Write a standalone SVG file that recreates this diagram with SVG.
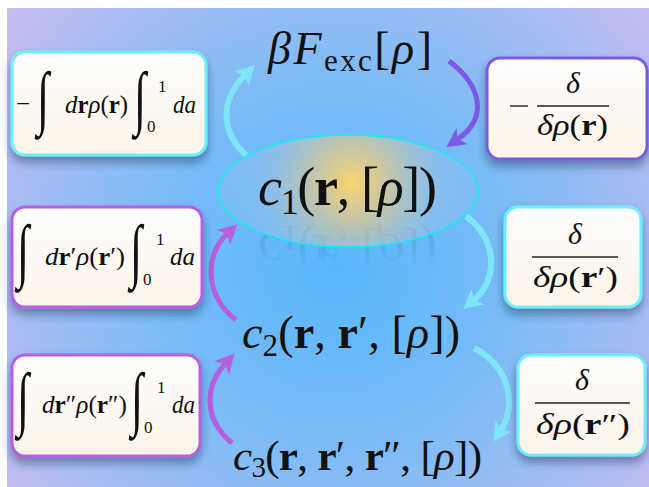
<svg xmlns="http://www.w3.org/2000/svg" width="649" height="487" viewBox="0 0 649 487">
<defs>
<style>
.m{font-family:"Liberation Serif","DejaVu Serif",serif;fill:#111}
.i{font-style:italic}
.b{font-weight:bold}
.box{stroke-width:3}
.cy{stroke:#6cf0f8}
.pu{stroke:#b65fe0}
.pb{stroke:#7b5ae6}
.arr{fill:none;stroke-linecap:butt}
.int{font-family:"Liberation Serif","DejaVu Serif",serif;fill:#111;font-size:44px;font-style:italic}
.lim{font-family:"Liberation Serif","DejaVu Serif",serif;fill:#111;font-size:17px}
.bx{font-size:25px}
.fr{font-size:30px}
</style>
<radialGradient id="bg" gradientUnits="userSpaceOnUse" cx="335" cy="265" r="430">
<stop offset="0" stop-color="#58b7fa"/>
<stop offset="0.4" stop-color="#78bbf6"/>
<stop offset="0.75" stop-color="#a9bdf3"/>
<stop offset="1" stop-color="#cdbcf0"/>
</radialGradient>
<radialGradient id="glow" gradientUnits="userSpaceOnUse" cx="352" cy="183" r="125">
<stop offset="0" stop-color="#f9d36e"/>
<stop offset="0.3" stop-color="#dcc994" stop-opacity="0.8"/>
<stop offset="0.7" stop-color="#a6c2e2" stop-opacity="0.45"/>
<stop offset="1" stop-color="#8ec0ee" stop-opacity="0.3"/>
</radialGradient>
<linearGradient id="card" x1="0" y1="0" x2="0" y2="1">
<stop offset="0" stop-color="#fefefe"/>
<stop offset="1" stop-color="#fcf4e8"/>
</linearGradient>
<linearGradient id="fadeg" gradientUnits="userSpaceOnUse" x1="0" y1="222" x2="0" y2="268">
<stop offset="0" stop-color="#fff" stop-opacity="0.16"/>
<stop offset="1" stop-color="#fff" stop-opacity="0"/>
</linearGradient>
<mask id="fade" maskUnits="userSpaceOnUse" x="0" y="0" width="649" height="487">
<rect x="180" y="218" width="330" height="80" fill="url(#fadeg)"/>
</mask>
<filter id="sh" x="-20%" y="-20%" width="140%" height="150%">
<feDropShadow dx="0" dy="6" stdDeviation="5" flood-color="#1d2c55" flood-opacity="0.45"/>
</filter>
<marker id="ac" markerUnits="userSpaceOnUse" markerWidth="24" markerHeight="24" viewBox="-2 -12 24 24" refX="5" refY="0" orient="auto">
<path d="M0,-10 L19,0 L0,10 L5,0 z" fill="#7fe6fa"/>
</marker>
<marker id="ap" markerUnits="userSpaceOnUse" markerWidth="24" markerHeight="24" viewBox="-2 -12 24 24" refX="5" refY="0" orient="auto">
<path d="M0,-10 L19,0 L0,10 L5,0 z" fill="#b65fe0"/>
</marker>
<marker id="ab" markerUnits="userSpaceOnUse" markerWidth="24" markerHeight="24" viewBox="-2 -12 24 24" refX="5" refY="0" orient="auto">
<path d="M0,-10 L19,0 L0,10 L5,0 z" fill="#7b5ae6"/>
</marker>
</defs>
<rect x="0" y="0" width="649" height="487" fill="#fff"/>
<rect x="7" y="8" width="642" height="479" fill="url(#bg)"/>

<g id="connectors">
<path class="arr" d="M247,156 C220,132 220,100 245,75" stroke="#7fe6fa" stroke-width="6" marker-end="url(#ac)"/>
<path class="arr" d="M449,61 C482,86 488,118 458,139" stroke="#7b5ae6" stroke-width="5" marker-end="url(#ab)"/>
<path class="arr" d="M466,216 C498,240 498,280 474,300" stroke="#7fe6fa" stroke-width="6" marker-end="url(#ac)"/>
<path class="arr" d="M236,320 C205,296 204,255 227,234" stroke="#b65fe0" stroke-width="5" marker-end="url(#ap)"/>
<path class="arr" d="M474,348 C512,368 516,408 501,430" stroke="#7fe6fa" stroke-width="6" marker-end="url(#ac)"/>
<path class="arr" d="M232,443 C204,420 204,387 225,364" stroke="#b65fe0" stroke-width="5" marker-end="url(#ap)"/>
</g>

<g id="node-F">
<text class="m" x="268" y="64" font-size="46" textLength="164" lengthAdjust="spacing"><tspan class="i">βF</tspan><tspan font-size="31" dy="7">exc</tspan><tspan dy="-7">[</tspan><tspan class="i">ρ</tspan>]</text>
</g>

<g id="node-c1">
<g mask="url(#fade)">
<ellipse cx="348" cy="307" rx="130" ry="56" fill="#a8dcfa" stroke="#10eef0" stroke-width="1.5"/>
<text class="m" x="258" y="205" font-size="54" textLength="179" lengthAdjust="spacing" transform="translate(0,440) scale(1,-1)"><tspan class="i">c</tspan><tspan font-size="36" dy="9">1</tspan><tspan dy="-9">(</tspan><tspan class="b">r</tspan>, [<tspan class="i">ρ</tspan>])</text>
</g>
<ellipse cx="348" cy="191" rx="130" ry="56" fill="url(#glow)" stroke="#10eef0" stroke-width="1.5"/>
<text class="m" x="258" y="205" font-size="54" textLength="179" lengthAdjust="spacing"><tspan class="i">c</tspan><tspan font-size="36" dy="9">1</tspan><tspan dy="-9">(</tspan><tspan class="b">r</tspan>, [<tspan class="i">ρ</tspan>])</text>
</g>

<g id="node-c2">
<text class="m" x="242" y="348" font-size="46" textLength="218" lengthAdjust="spacing"><tspan class="i">c</tspan><tspan font-size="31" dy="8">2</tspan><tspan dy="-8">(</tspan><tspan class="b">r</tspan>, <tspan class="b">r</tspan>′, [<tspan class="i">ρ</tspan>])</text>
</g>

<g id="node-c3">
<text class="m" x="233" y="470" font-size="43" textLength="249" lengthAdjust="spacing"><tspan class="i">c</tspan><tspan font-size="29" dy="7">3</tspan><tspan dy="-7">(</tspan><tspan class="b">r</tspan>, <tspan class="b">r</tspan>′, <tspan class="b">r</tspan>″, [<tspan class="i">ρ</tspan>])</text>
</g>

<g id="box-L1">
<rect class="box cy" x="12" y="52" width="194" height="103" rx="13" fill="url(#card)" filter="url(#sh)"/>
<text class="m bx" x="16" y="112">−</text>
<text class="int" transform="translate(37,121) scale(1,1.6)">∫</text>
<text class="m bx" x="65" y="113" textLength="63" lengthAdjust="spacingAndGlyphs"><tspan class="i">d</tspan><tspan class="b">r</tspan><tspan class="i">ρ</tspan>(<tspan class="b">r</tspan>)</text>
<text class="int" transform="translate(134,121) scale(1,1.6)">∫</text>
<text class="lim" x="158" y="92">1</text>
<text class="lim" x="147" y="132">0</text>
<text class="m bx i" x="173" y="113" textLength="23" lengthAdjust="spacingAndGlyphs">da</text>
</g>

<g id="box-L2">
<rect class="box pu" x="12" y="207" width="190" height="100" rx="13" fill="url(#card)" filter="url(#sh)"/>
<text class="int" transform="translate(17,274) scale(1,1.6)">∫</text>
<text class="m bx" x="45" y="265" textLength="80" lengthAdjust="spacingAndGlyphs"><tspan class="i">d</tspan><tspan class="b">r</tspan>′<tspan class="i">ρ</tspan>(<tspan class="b">r</tspan>′)</text>
<text class="int" transform="translate(130,274) scale(1,1.6)">∫</text>
<text class="lim" x="156" y="245">1</text>
<text class="lim" x="143" y="285">0</text>
<text class="m bx i" x="170" y="265" textLength="25" lengthAdjust="spacingAndGlyphs">da</text>
</g>

<g id="box-L3">
<rect class="box pu" x="12" y="355" width="188" height="101" rx="13" fill="url(#card)" filter="url(#sh)"/>
<text class="int" transform="translate(17,422) scale(1,1.6)">∫</text>
<text class="m bx" x="42" y="413" textLength="85" lengthAdjust="spacingAndGlyphs"><tspan class="i">d</tspan><tspan class="b">r</tspan>″<tspan class="i">ρ</tspan>(<tspan class="b">r</tspan>″)</text>
<text class="int" transform="translate(131,422) scale(1,1.6)">∫</text>
<text class="lim" x="157" y="393">1</text>
<text class="lim" x="144" y="433">0</text>
<text class="m bx i" x="172" y="413" textLength="23" lengthAdjust="spacingAndGlyphs">da</text>
</g>

<g id="box-R1">
<rect class="box pb" x="487" y="58" width="160" height="101" rx="13" fill="url(#card)" filter="url(#sh)"/>
<line x1="510" y1="106" x2="528" y2="106" stroke="#222" stroke-width="1.4"/>
<text class="m i fr" x="573" y="93" text-anchor="middle">δ</text>
<line x1="537" y1="106" x2="609" y2="106" stroke="#222" stroke-width="1.3"/>
<text class="m fr" x="537" y="135" textLength="71" lengthAdjust="spacingAndGlyphs"><tspan class="i">δρ</tspan>(<tspan class="b">r</tspan>)</text>
</g>

<g id="box-R2">
<rect class="box cy" x="505" y="207" width="136" height="100" rx="13" fill="url(#card)" filter="url(#sh)"/>
<text class="m i fr" x="575" y="244" text-anchor="middle">δ</text>
<line x1="532" y1="257" x2="618" y2="257" stroke="#222" stroke-width="1.3"/>
<text class="m fr" x="533" y="287" textLength="85" lengthAdjust="spacingAndGlyphs"><tspan class="i">δρ</tspan>(<tspan class="b">r</tspan>′)</text>
</g>

<g id="box-R3">
<rect class="box cy" x="518" y="355" width="127" height="100" rx="13" fill="url(#card)" filter="url(#sh)"/>
<text class="m i fr" x="582" y="390" text-anchor="middle">δ</text>
<line x1="535" y1="403" x2="630" y2="403" stroke="#222" stroke-width="1.3"/>
<text class="m fr" x="536" y="434" textLength="94" lengthAdjust="spacingAndGlyphs"><tspan class="i">δρ</tspan>(<tspan class="b">r</tspan>″)</text>
</g>
</svg>
